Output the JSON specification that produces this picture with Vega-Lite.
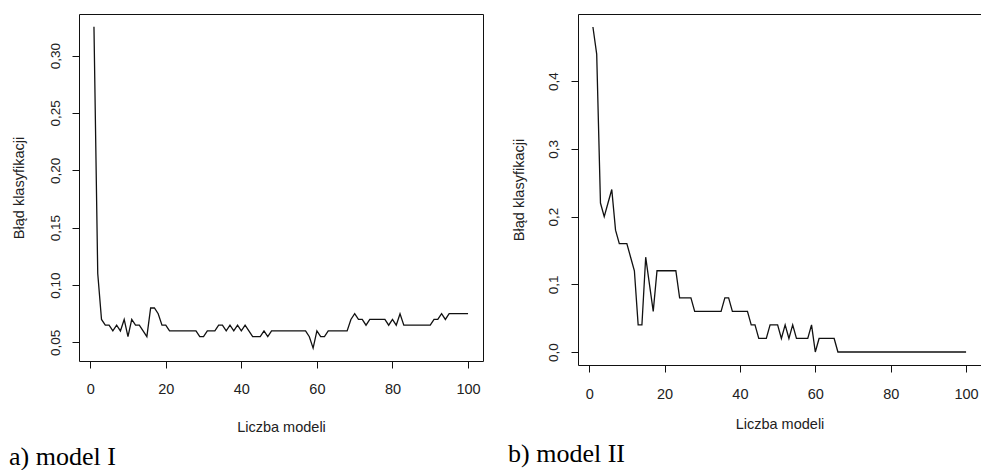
{
  "$schema": "https://vega.github.io/schema/vega-lite/v6.json",
  "padding": {"left": 8, "top": 13, "right": 0, "bottom": 0},
  "autosize": {"type": "pad"},
  "background": "white",
  "spacing": 23,
  "config": {
    "view": {"stroke": "#111", "strokeWidth": 1},
    "font": "Liberation Sans",
    "axis": {
      "domain": false,
      "grid": false,
      "tickColor": "#111",
      "tickSize": 7,
      "labelFont": "Liberation Sans",
      "labelColor": "#222",
      "titleColor": "#222",
      "titleFont": "Liberation Sans",
      "titleFontWeight": "normal",
      "titleFontSize": 14.5
    }
  },
  "hconcat": [
    {
      "width": 404,
      "height": 347,
      "title": {"text": "a) model I", "orient": "bottom", "anchor": "start", "frame": "group", "dx": -70, "offset": 10, "font": "Liberation Serif", "fontSize": 26, "fontWeight": "normal", "color": "#000"},
      "data": {"values": [
        {"n": 1, "err": 0.325}, {"n": 2, "err": 0.11}, {"n": 3, "err": 0.07}, {"n": 4, "err": 0.065}, {"n": 5, "err": 0.065},
        {"n": 6, "err": 0.06}, {"n": 7, "err": 0.065}, {"n": 8, "err": 0.06}, {"n": 9, "err": 0.07}, {"n": 10, "err": 0.055},
        {"n": 11, "err": 0.07}, {"n": 12, "err": 0.065}, {"n": 13, "err": 0.065}, {"n": 14, "err": 0.06}, {"n": 15, "err": 0.055},
        {"n": 16, "err": 0.08}, {"n": 17, "err": 0.08}, {"n": 18, "err": 0.075}, {"n": 19, "err": 0.065}, {"n": 20, "err": 0.065},
        {"n": 21, "err": 0.06}, {"n": 22, "err": 0.06}, {"n": 23, "err": 0.06}, {"n": 24, "err": 0.06}, {"n": 25, "err": 0.06},
        {"n": 26, "err": 0.06}, {"n": 27, "err": 0.06}, {"n": 28, "err": 0.06}, {"n": 29, "err": 0.055}, {"n": 30, "err": 0.055},
        {"n": 31, "err": 0.06}, {"n": 32, "err": 0.06}, {"n": 33, "err": 0.06}, {"n": 34, "err": 0.065}, {"n": 35, "err": 0.065},
        {"n": 36, "err": 0.06}, {"n": 37, "err": 0.065}, {"n": 38, "err": 0.06}, {"n": 39, "err": 0.065}, {"n": 40, "err": 0.06},
        {"n": 41, "err": 0.065}, {"n": 42, "err": 0.06}, {"n": 43, "err": 0.055}, {"n": 44, "err": 0.055}, {"n": 45, "err": 0.055},
        {"n": 46, "err": 0.06}, {"n": 47, "err": 0.055}, {"n": 48, "err": 0.06}, {"n": 49, "err": 0.06}, {"n": 50, "err": 0.06},
        {"n": 51, "err": 0.06}, {"n": 52, "err": 0.06}, {"n": 53, "err": 0.06}, {"n": 54, "err": 0.06}, {"n": 55, "err": 0.06},
        {"n": 56, "err": 0.06}, {"n": 57, "err": 0.06}, {"n": 58, "err": 0.055}, {"n": 59, "err": 0.045}, {"n": 60, "err": 0.06},
        {"n": 61, "err": 0.055}, {"n": 62, "err": 0.055}, {"n": 63, "err": 0.06}, {"n": 64, "err": 0.06}, {"n": 65, "err": 0.06},
        {"n": 66, "err": 0.06}, {"n": 67, "err": 0.06}, {"n": 68, "err": 0.06}, {"n": 69, "err": 0.07}, {"n": 70, "err": 0.075},
        {"n": 71, "err": 0.07}, {"n": 72, "err": 0.07}, {"n": 73, "err": 0.065}, {"n": 74, "err": 0.07}, {"n": 75, "err": 0.07},
        {"n": 76, "err": 0.07}, {"n": 77, "err": 0.07}, {"n": 78, "err": 0.07}, {"n": 79, "err": 0.065}, {"n": 80, "err": 0.07},
        {"n": 81, "err": 0.065}, {"n": 82, "err": 0.075}, {"n": 83, "err": 0.065}, {"n": 84, "err": 0.065}, {"n": 85, "err": 0.065},
        {"n": 86, "err": 0.065}, {"n": 87, "err": 0.065}, {"n": 88, "err": 0.065}, {"n": 89, "err": 0.065}, {"n": 90, "err": 0.065},
        {"n": 91, "err": 0.07}, {"n": 92, "err": 0.07}, {"n": 93, "err": 0.075}, {"n": 94, "err": 0.07}, {"n": 95, "err": 0.075},
        {"n": 96, "err": 0.075}, {"n": 97, "err": 0.075}, {"n": 98, "err": 0.075}, {"n": 99, "err": 0.075}, {"n": 100, "err": 0.075}
      ]},
      "mark": {"type": "line", "color": "#111", "strokeWidth": 1.3},
      "encoding": {
        "x": {
          "field": "n", "type": "quantitative",
          "scale": {"domain": [-2.96, 103.96], "nice": false, "zero": false},
          "axis": {"values": [0, 20, 40, 60, 80, 100], "title": "Liczba modeli", "labelFontSize": 14.5, "labelPadding": 14, "labelBaseline": "top", "titleY": 70, "titleBaseline": "alphabetic"}
        },
        "y": {
          "field": "err", "type": "quantitative",
          "scale": {"domain": [0.0338, 0.3362], "nice": false, "zero": false},
          "axis": {"values": [0.05, 0.1, 0.15, 0.2, 0.25, 0.3], "labelExpr": "replace(format(datum.value, '.2f'), '.', ',')", "labelAngle": -90, "labelAlign": "center", "labelBaseline": "middle", "labelPadding": 17, "labelFontSize": 13.5, "title": "Błąd klasyfikacji", "titleX": -60, "titleBaseline": "middle"}
        }
      }
    },
    {
      "width": 403,
      "height": 351,
      "title": {"text": "b) model II", "orient": "bottom", "anchor": "start", "frame": "group", "dx": -70, "offset": 10, "font": "Liberation Serif", "fontSize": 26, "fontWeight": "normal", "color": "#000"},
      "data": {"values": [
        {"n": 1, "err": 0.48}, {"n": 2, "err": 0.44}, {"n": 3, "err": 0.22}, {"n": 4, "err": 0.2}, {"n": 5, "err": 0.22},
        {"n": 6, "err": 0.24}, {"n": 7, "err": 0.18}, {"n": 8, "err": 0.16}, {"n": 9, "err": 0.16}, {"n": 10, "err": 0.16},
        {"n": 11, "err": 0.14}, {"n": 12, "err": 0.12}, {"n": 13, "err": 0.04}, {"n": 14, "err": 0.04}, {"n": 15, "err": 0.14},
        {"n": 16, "err": 0.1}, {"n": 17, "err": 0.06}, {"n": 18, "err": 0.12}, {"n": 19, "err": 0.12}, {"n": 20, "err": 0.12},
        {"n": 21, "err": 0.12}, {"n": 22, "err": 0.12}, {"n": 23, "err": 0.12}, {"n": 24, "err": 0.08}, {"n": 25, "err": 0.08},
        {"n": 26, "err": 0.08}, {"n": 27, "err": 0.08}, {"n": 28, "err": 0.06}, {"n": 29, "err": 0.06}, {"n": 30, "err": 0.06},
        {"n": 31, "err": 0.06}, {"n": 32, "err": 0.06}, {"n": 33, "err": 0.06}, {"n": 34, "err": 0.06}, {"n": 35, "err": 0.06},
        {"n": 36, "err": 0.08}, {"n": 37, "err": 0.08}, {"n": 38, "err": 0.06}, {"n": 39, "err": 0.06}, {"n": 40, "err": 0.06},
        {"n": 41, "err": 0.06}, {"n": 42, "err": 0.06}, {"n": 43, "err": 0.04}, {"n": 44, "err": 0.04}, {"n": 45, "err": 0.02},
        {"n": 46, "err": 0.02}, {"n": 47, "err": 0.02}, {"n": 48, "err": 0.04}, {"n": 49, "err": 0.04}, {"n": 50, "err": 0.04},
        {"n": 51, "err": 0.02}, {"n": 52, "err": 0.04}, {"n": 53, "err": 0.02}, {"n": 54, "err": 0.04}, {"n": 55, "err": 0.02},
        {"n": 56, "err": 0.02}, {"n": 57, "err": 0.02}, {"n": 58, "err": 0.02}, {"n": 59, "err": 0.04}, {"n": 60, "err": 0.0},
        {"n": 61, "err": 0.02}, {"n": 62, "err": 0.02}, {"n": 63, "err": 0.02}, {"n": 64, "err": 0.02}, {"n": 65, "err": 0.02},
        {"n": 66, "err": 0.0}, {"n": 67, "err": 0.0}, {"n": 68, "err": 0.0}, {"n": 69, "err": 0.0}, {"n": 70, "err": 0.0},
        {"n": 71, "err": 0.0}, {"n": 72, "err": 0.0}, {"n": 73, "err": 0.0}, {"n": 74, "err": 0.0}, {"n": 75, "err": 0.0},
        {"n": 76, "err": 0.0}, {"n": 77, "err": 0.0}, {"n": 78, "err": 0.0}, {"n": 79, "err": 0.0}, {"n": 80, "err": 0.0},
        {"n": 81, "err": 0.0}, {"n": 82, "err": 0.0}, {"n": 83, "err": 0.0}, {"n": 84, "err": 0.0}, {"n": 85, "err": 0.0},
        {"n": 86, "err": 0.0}, {"n": 87, "err": 0.0}, {"n": 88, "err": 0.0}, {"n": 89, "err": 0.0}, {"n": 90, "err": 0.0},
        {"n": 91, "err": 0.0}, {"n": 92, "err": 0.0}, {"n": 93, "err": 0.0}, {"n": 94, "err": 0.0}, {"n": 95, "err": 0.0},
        {"n": 96, "err": 0.0}, {"n": 97, "err": 0.0}, {"n": 98, "err": 0.0}, {"n": 99, "err": 0.0}, {"n": 100, "err": 0.0}
      ]},
      "mark": {"type": "line", "color": "#111", "strokeWidth": 1.3},
      "encoding": {
        "x": {
          "field": "n", "type": "quantitative",
          "scale": {"domain": [-2.96, 103.96], "nice": false, "zero": false},
          "axis": {"values": [0, 20, 40, 60, 80, 100], "title": "Liczba modeli", "labelFontSize": 14.5, "labelPadding": 15, "labelBaseline": "top", "titleY": 63, "titleBaseline": "alphabetic"}
        },
        "y": {
          "field": "err", "type": "quantitative",
          "scale": {"domain": [-0.0192, 0.4992], "nice": false, "zero": false},
          "axis": {"values": [0, 0.1, 0.2, 0.3, 0.4], "labelExpr": "replace(format(datum.value, '.1f'), '.', ',')", "labelAngle": -90, "labelAlign": "center", "labelBaseline": "middle", "labelPadding": 18, "labelFontSize": 13.5, "title": "Błąd klasyfikacji", "titleX": -59, "titleBaseline": "middle"}
        }
      }
    }
  ]
}
